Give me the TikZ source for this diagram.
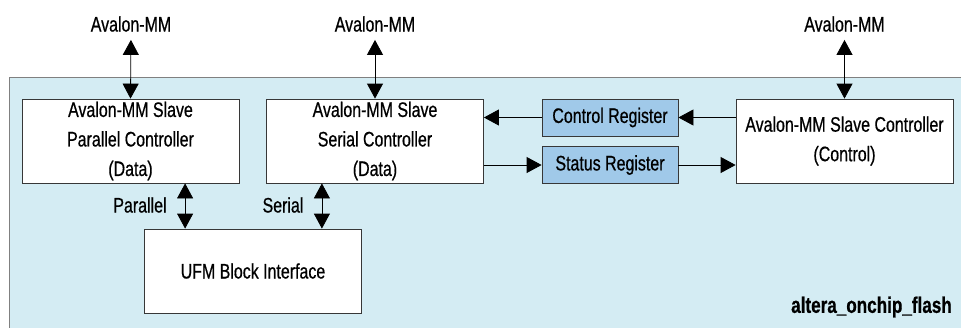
\documentclass[tikz,border=0pt]{standalone}
\usepackage{fontspec}
\setmainfont{Liberation Sans}[FakeStretch=0.76, FakeBold=0.6]
\usetikzlibrary{arrows.meta}

\definecolor{chipbg}{RGB}{212,236,243}
\definecolor{regfill}{RGB}{160,201,233}
\definecolor{edgegray}{RGB}{55,55,55}

\tikzset{
  txt/.style={font=\fontsize{21}{29.5}\selectfont, align=center, inner sep=0pt},
  blk/.style={txt, draw=edgegray, fill=white, line width=0.8pt,
              minimum width=217pt, minimum height=84pt},
  reg/.style={txt, draw=edgegray, fill=regfill, line width=0.8pt,
              minimum width=136pt, minimum height=37pt},
  dbl/.style={{Triangle[width=16pt,length=15pt]}-{Triangle[width=16pt,length=15pt]}, line width=0.8pt},
  arr/.style={-{Triangle[width=16pt,length=15pt]}, line width=0.8pt}
}

\begin{document}
\begin{tikzpicture}[x=1pt, y=-1pt]

  \useasboundingbox (0,0) rectangle (961,327);
  \clip (0,0) rectangle (961,327);

  % the chip
  \draw[fill=chipbg, draw=gray, line width=0.8pt] (9.5,77) rectangle (975,340);
  \node[txt, font=\fontsize{22.5}{24}\selectfont\bfseries, anchor=east] (chip) at (952,307) {altera\_onchip\_flash};

  % controllers
  \node[blk] (par) at (130.5,141) {Avalon-MM Slave\\Parallel Controller\\(Data)};
  \node[blk] (ser) at (375,141) {Avalon-MM Slave\\Serial Controller\\(Data)};
  \node[blk] (ctl) at (844.5,141) {Avalon-MM Slave Controller\\(Control)};
  \node[blk] (ufm) at (253,271) {UFM Block Interface};

  % registers
  \node[reg] (creg) at (610,117.5) {Control Register};
  \node[reg] (sreg) at (610,165) {Status Register};

  % outside ports
  \foreach \nm/\x/\bx in {ap/131/par, as/375/ser, ac/844.5/ctl}{
    \node[txt] (\nm) at (\x,24) {Avalon-MM};
    \draw[dbl, shorten <=8pt] (\nm.south) -- (\bx.north);
  }

  % control / status path
  \draw[arr] (ctl.west |- creg) -- (creg.east);
  \draw[arr] (creg.west) -- (ser.east |- creg);
  \draw[arr] (ser.east |- sreg) -- (sreg.west);
  \draw[arr] (sreg.east) -- (ctl.west |- sreg);

  % to the UFM block
  \coordinate (pp) at ([xshift=41pt]ufm.north west);
  \coordinate (sp) at ([xshift=-40pt]ufm.north east);
  \draw[dbl] (pp |- par.south) -- (pp);
  \draw[dbl] (sp |- ser.south) -- (sp);
  \node[txt] (plbl) at (140,205) {Parallel};
  \node[txt] (slbl) at (283,205) {Serial};

\end{tikzpicture}
\end{document}
